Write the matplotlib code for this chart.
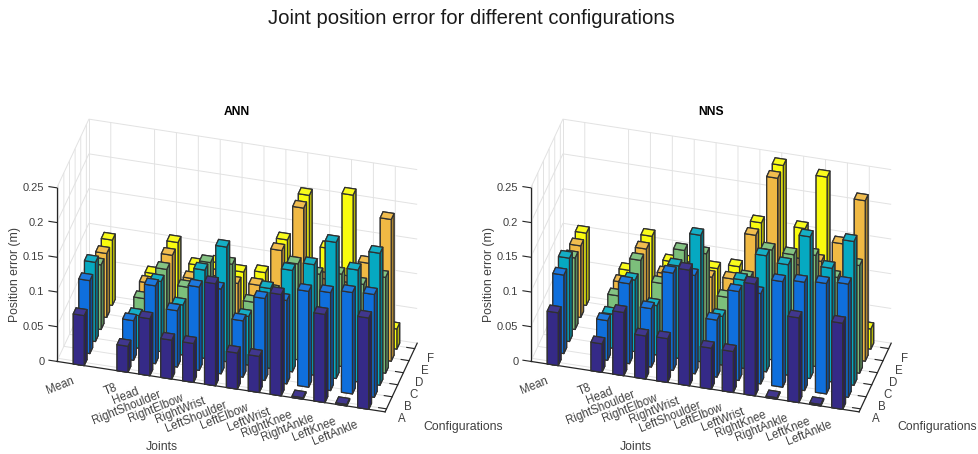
import numpy as np
import matplotlib
matplotlib.use("Agg")
import matplotlib.pyplot as plt
from mpl_toolkits.mplot3d import proj3d

plt.rcParams['font.family'] = ['Liberation Sans', 'DejaVu Sans']

# Joints and where they sit on the x axis (slot 2 is left empty)
joints = ['Mean', 'T8', 'Head', 'RightShoulder', 'RightElbow', 'RightWrist', 'LeftShoulder',
          'LeftElbow', 'LeftWrist', 'RightKnee', 'RightAnkle', 'LeftKnee', 'LeftAnkle']
joint_pos = [1, 3, 4, 5, 6, 7, 8, 9, 10, 11, 12, 13, 14]
configs = ['A', 'B', 'C', 'D', 'E', 'F']
z_ticks = [0, 0.05, 0.1, 0.15, 0.2, 0.25]
z_labels = ['0', '0.05', '0.1', '0.15', '0.2', '0.25']
config_colors = ['#352a87', '#0f6fdc', '#06a9c1', '#7cbf7b', '#f0b944', '#f9fb0e']

# ANN errors per configuration
ann_a = [.072, .0375, .082, .056, .056, .147, .052, .052, .146, .002, .127, .002, .1315]
ann_b = [.105, .057, .112, .081, .12, .122, .081, .118, .12, .138, .141, .146, .148]
ann_c = [.114, .047, .101, .072, .127, .165, .07, .115, .146, .159, .196, .161, .19]
ann_d = [.093, .054, .101, .08, .1205, .123, .073, .093, .138, .128, .133, .123, .138]
ann_e = [.092, .059, .104, .075, .084, .078, .08, .135, .201, .104, .104, .136, .204]
ann_f = [.094, .055, .105, .077, .085, .077, .081, .133, .202, .13, .212, .105, .029]

# NNS errors per configuration
nns_a = [.076, .041, .091, .062, .063, .1665, .059, .059, .161, .002, .122, .002, .124]
nns_b = [.113, .057, .115, .084, .14, .1415, .082, .128, .13, .152, .156, .159, .163]
nns_c = [.12, .049, .103, .071, .133, .182, .07, .127, .167, .159, .204, .1635, .207]
nns_d = [.103, .058, .114, .0855, .138, .138, .08, .113, .158, .156, .16, .133, .155]
nns_e = [.103, .06, .113, .082, .094, .087, .089, .157, .244, .124, .134, .164, .231]
nns_f = [.104, .06, .114, .082, .085, .082, .0895, .1576, .245, .159, .238, .125, .029]

ann_errors = [ann_a, ann_b, ann_c, ann_d, ann_e, ann_f]
nns_errors = [nns_a, nns_b, nns_c, nns_d, nns_e, nns_f]

W, H = 979, 454
BAR = 0.5
TEXT = '#404040'
AXIS = '#262626'
GRID = '#e2e2e2'


def face_colors(color):
    c = np.array(matplotlib.colors.to_rgb(color))
    side = c * 0.72
    top = c + (1 - c) * 0.06
    # order used by bar3d: -z, +z, -y, +y, -x, +x
    return [side, top, c, c, side, side]


def label_at(ax, x, y, z, text, **kwargs):
    # write a 2D text at the screen position of a 3D point
    px, py, _ = proj3d.proj_transform(x, y, z, ax.get_proj())
    ax.text2D(px, py, text, transform=ax.transData, color=TEXT, zorder=1000, **kwargs)


def draw_panel(left_px, errors, title):
    size = 407
    ax = fig.add_axes([left_px / W, -20.5 / H, size / W, size / H], projection='3d',
                      computed_zorder=False)
    ax.patch.set_alpha(0)
    ax.set_proj_type('ortho')
    ax.view_init(elev=35, azim=-75)
    ax.set_box_aspect((340, 124, 212))

    # corner between the two walls
    ax.plot([0, 0], [6.45, 6.45], [0, 0.25], color=GRID, linewidth=0.7, zorder=0)

    # back to front so that the bars hide each other correctly
    order = 0
    for i in reversed(range(len(configs))):
        for j, pos in enumerate(joint_pos):
            order += 1
            ax.bar3d(pos - BAR / 2, i + 1 - BAR / 2, 0, BAR, BAR, errors[i][j],
                     color=face_colors(config_colors[i]), edgecolor='#303030',
                     linewidth=0.9, shade=False, zorder=order)

    ax.set_xlim(0, 15, view_margin=0)
    ax.set_ylim(0.75, 6.45, view_margin=0)
    ax.set_zlim(0, 0.25, view_margin=0)

    ax.set_xticks(joint_pos)
    ax.set_yticks(range(1, 7))
    ax.set_zticks(z_ticks)
    ax.set_xticklabels([])
    ax.set_yticklabels([])
    ax.set_zticklabels([])

    # tick labels placed by hand, mplot3d puts them too far off
    for pos, name in zip(joint_pos, joints):
        label_at(ax, pos - 0.12, -0.15, 0, name, rotation=22, ha='right', va='top',
                 rotation_mode='anchor', fontsize=8.3)
    for i, name in enumerate(configs):
        label_at(ax, 15.87, i + 1 - 0.61, 0, name, ha='center', va='center', fontsize=8.3)
    for val, name in zip(z_ticks, z_labels):
        label_at(ax, -0.53, 0.59, val, name, ha='right', va='center', fontsize=8)

    ax.zaxis._axinfo['juggled'] = (1, 2, 0)
    for axis in (ax.xaxis, ax.yaxis, ax.zaxis):
        axis.set_pane_color((1, 1, 1, 1))
        axis.pane.set_edgecolor('none')
        axis.line.set_color(AXIS)
        axis.line.set_linewidth(0.9)
        axis._axinfo['grid']['color'] = GRID
        axis._axinfo['grid']['linewidth'] = 0.7
        axis._axinfo['tick']['inward_factor'] = 0
        axis._axinfo['tick']['outward_factor'] = 0.3
        axis.set_tick_params(color=AXIS, width=0.8)

    fig.text((left_px + 209) / W, 1 - 112 / H, title, fontsize=8.7, fontweight='bold',
             ha='center', va='center', color='black')
    fig.text((left_px + 134) / W, 1 - 447 / H, 'Joints', fontsize=8.8, ha='center', va='center', color=TEXT)
    fig.text((left_px + 435) / W, 1 - 427 / H, 'Configurations', fontsize=8.8, ha='center', va='center', color=TEXT)
    fig.text((left_px - 13) / W, 1 - 275 / H, 'Position error (m)', fontsize=8.8, rotation=90,
             ha='center', va='center', color=TEXT)


fig = plt.figure(figsize=(W / 100, H / 100), dpi=100)
draw_panel(28, ann_errors, 'ANN')
draw_panel(502, nns_errors, 'NNS')
fig.text(471 / W, 1 - 19 / H, 'Joint position error for different configurations', fontsize=14.6,
         ha='center', va='center', color='#1a1a1a')
fig.savefig('out.png', dpi=100)
